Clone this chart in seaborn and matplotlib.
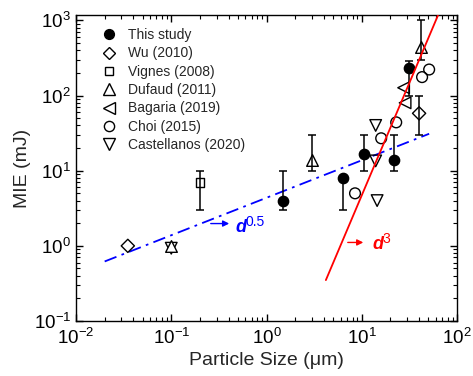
import numpy as np
import pandas as pd
import matplotlib
matplotlib.use('Agg')
import matplotlib.pyplot as plt
import seaborn as sns
from matplotlib.lines import Line2D
from matplotlib.ticker import LogLocator, NullFormatter, FuncFormatter

# values: particle size (um) and MIE (mJ)
study_x = [1.5, 6.4, 10.5, 22, 31.5]
study_y = [4.0, 7.9, 16.5, 13.8, 235]
study_lo = [3, 3, 10, 10, 100]
study_hi = [10, 7.9, 30, 30, 285]

wu_x = [0.035, 40]
wu_y = [1.0, 58]
wu_lo = [1.0, 30]
wu_hi = [1.0, 100]

vignes_x = [0.2]
vignes_y = [7.0]
vignes_lo = [3]
vignes_hi = [10]

dufaud_x = [0.1, 3.0, 42]
dufaud_y = [1.0, 14, 440]
dufaud_lo = [1.0, 10, 300]
dufaud_hi = [1.0, 30, 1000]

bagaria_x = [27.5, 28.5]
bagaria_y = [127, 80]

choi_x = [8.5, 16, 23, 43, 51]
choi_y = [5.0, 27, 44, 176, 222]

cast_x = [0.1, 14, 14, 14.5]
cast_y = [0.93, 40, 13.5, 4.0]

# end points of the two trend lines
fit05_x = [0.02, 51]
fit05_y = [0.62, 31]
fit3_x = [4.2, 63]
fit3_y = [0.35, 1160]

sns.set_theme(style='ticks')
plt.rcParams['font.family'] = ['Liberation Sans', 'DejaVu Sans']
plt.rcParams['mathtext.fontset'] = 'custom'
plt.rcParams['mathtext.rm'] = 'Liberation Sans'
plt.rcParams['mathtext.it'] = 'Liberation Sans:italic'
plt.rcParams['mathtext.bf'] = 'Liberation Sans:bold'

fig = plt.figure(figsize=(4.73, 3.76), dpi=100)
ax = fig.add_axes([76 / 473, 1 - 321 / 376, 381 / 473, 306 / 376])
ax.set_xscale('log')
ax.set_yscale('log')

# trend lines
sns.lineplot(x=fit05_x, y=fit05_y, ax=ax, color='blue', lw=1.3,
             linestyle=(0, (7, 3, 1.5, 3)), zorder=2)
sns.lineplot(x=fit3_x, y=fit3_y, ax=ax, color='red', lw=1.3, zorder=5)

# error bars
def bars(x, y, lo, hi):
    x, y, lo, hi = map(np.asarray, (x, y, lo, hi))
    keep = (lo < y) | (hi > y)
    ax.errorbar(x[keep], y[keep], yerr=[y[keep] - lo[keep], hi[keep] - y[keep]],
                fmt='none', ecolor='black', elinewidth=1.1, capsize=3, capthick=1.1, zorder=4)

bars(study_x, study_y, study_lo, study_hi)
bars(wu_x, wu_y, wu_lo, wu_hi)
bars(vignes_x, vignes_y, vignes_lo, vignes_hi)
bars(dufaud_x, dufaud_y, dufaud_lo, dufaud_hi)

# legend order, then drawing order (Castellanos sits under Dufaud at 0.1 um)
series = [
    ('This study', study_x, study_y, 'o', 'black', 55),
    ('Wu (2010)', wu_x, wu_y, 'D', 'none', 45),
    ('Vignes (2008)', vignes_x, vignes_y, 's', 'none', 40),
    ('Dufaud (2011)', dufaud_x, dufaud_y, '^', 'white', 70),
    ('Bagaria (2019)', bagaria_x, bagaria_y, '<', 'none', 70),
    ('Choi (2015)', choi_x, choi_y, 'o', 'none', 60),
    ('Castellanos (2020)', cast_x, cast_y, 'v', 'none', 70),
]
draw_z = {'Castellanos (2020)': 3.0, 'Dufaud (2011)': 3.2}
handles = []
for name, xs, ys, mk, fc, s in series:
    df = pd.DataFrame({'size': xs, 'mie': ys})
    sns.scatterplot(data=df, x='size', y='mie', ax=ax, marker=mk, s=s,
                    facecolor=fc, edgecolor='black', linewidth=1.0,
                    zorder=draw_z.get(name, 3.1))
    handles.append(Line2D([], [], ls='none', marker=mk, markersize=np.sqrt(s) * 0.95,
                          markerfacecolor=fc, markeredgecolor='black', markeredgewidth=1.0,
                          label=name))

ax.legend(handles=handles, loc='upper left', bbox_to_anchor=(0.068, 0.957),
          frameon=False, fontsize=10, handlelength=1.0, handletextpad=0.9,
          labelspacing=0.31, borderpad=0, borderaxespad=0)

# trend labels
ax.annotate('', xy=(0.434, 1.98), xytext=(0.243, 1.98),
            arrowprops=dict(arrowstyle='-|>', color='blue', lw=1.0, mutation_scale=9))
ax.text(0.467, 1.77, 'd', color='blue', fontsize=13, fontweight='bold',
        fontstyle='italic', va='center', ha='left')
ax.text(0.6, 2.1, '0.5', color='blue', fontsize=10, va='center', ha='left')
ax.annotate('', xy=(11.1, 1.11), xytext=(6.67, 1.11),
            arrowprops=dict(arrowstyle='-|>', color='red', lw=1.0, mutation_scale=9))
ax.text(13.0, 1.05, 'd', color='red', fontsize=13, fontweight='bold',
        fontstyle='italic', va='center', ha='left')
ax.text(16.6, 1.25, '3', color='red', fontsize=10, va='center', ha='left')

ax.set_xlim(1e-2, 1e2)
ax.set_ylim(1e-1, 1.18e3)
fmt = FuncFormatter(lambda v, p: r'$\mathdefault{10^{%d}}$' % round(np.log10(v)))
for axis in (ax.xaxis, ax.yaxis):
    axis.set_major_locator(LogLocator(base=10, numticks=10))
    axis.set_minor_locator(LogLocator(base=10, subs=np.arange(2, 10), numticks=10))
    axis.set_major_formatter(fmt)
    axis.set_minor_formatter(NullFormatter())
ax.tick_params(which='both', direction='in', top=True, right=True, colors='black',
               labelsize=13.5)
ax.tick_params(axis='x', pad=5)
ax.tick_params(which='major', length=5, width=1.0)
ax.tick_params(which='minor', length=3, width=0.8)
for sp in ax.spines.values():
    sp.set_color('black')
    sp.set_linewidth(1.0)

ax.set_xlabel('Particle Size (\u03bcm)', fontsize=14, labelpad=3)
ax.set_ylabel('MIE (mJ)', fontsize=14, labelpad=2)

fig.savefig('out.png', dpi=100)
